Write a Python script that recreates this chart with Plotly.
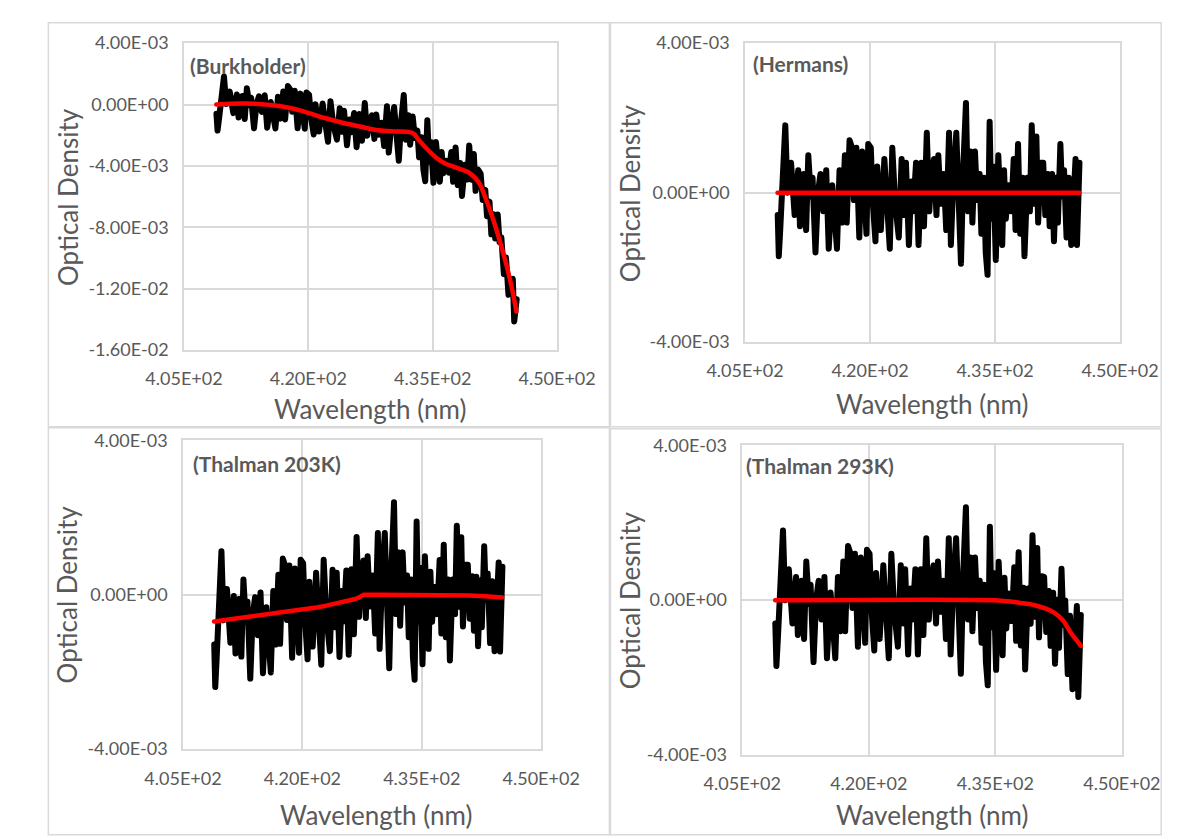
import numpy as np
import plotly.graph_objects as go

W, H = 1203, 840

# ---- measured spectra (optical density in units of 1e-3) ----
wavelength_nm = [
    408.92, 409.05, 409.22, 409.83, 410.09, 410.52, 410.95, 411.38, 411.59, 412.03,
    412.33, 412.59, 412.89, 413.10, 413.45, 413.75, 414.05, 414.40, 414.74, 415.04,
    415.47, 415.69, 416.03, 416.34, 416.64, 416.98, 417.20, 417.54, 417.84, 418.06,
    418.36, 418.71, 419.05, 419.35, 419.57, 419.78, 420.09, 420.34, 420.65, 420.86,
    421.29, 421.72, 422.03, 422.37, 422.67, 423.02, 423.45, 423.79, 424.10, 424.31,
    424.66, 424.96, 425.17, 425.52, 425.82, 426.16, 426.47, 426.81, 427.11, 427.33,
    427.67, 427.97, 428.19, 428.49, 428.84, 429.14, 429.48, 429.70, 430.04, 430.35,
    430.65, 430.91, 431.21, 431.51, 431.77, 432.07, 432.28, 432.59, 432.85, 433.15,
    433.36, 433.66, 433.88, 434.10, 434.35, 434.57, 434.78, 435.09, 435.39, 435.60,
    435.86, 436.08, 436.29, 436.59, 436.94, 437.24, 437.46, 437.76, 438.02, 438.32,
    438.53, 438.88, 439.18, 439.40, 439.70, 439.96, 440.17, 440.47, 440.78, 441.03,
    441.34, 441.55, 441.85, 442.07, 442.33, 442.54, 442.84, 443.06, 443.28, 443.58,
    443.84, 444.14, 444.40, 444.66, 444.83, 445.13,
]

burkholder_od = [
    -0.60, -1.70, -0.99, 1.83, 0.03, 0.84, -0.56, 0.65, -0.85, 0.56,
    -0.94, 1.06, -0.05, 0.45, -1.55, 0.04, 0.54, -0.48, 0.60, -1.51,
    0.17, -0.54, -1.56, 0.51, -0.92, 0.85, -0.97, 1.20, 0.96, -0.47,
    0.90, -1.55, 0.71, -0.64, -1.58, 0.79, 0.64, -0.90, -1.95, 0.02,
    -1.76, 0.07, -1.38, -2.43, 0.22, -1.33, -2.29, -0.24, -1.78, -0.40,
    -2.65, -0.98, -1.81, -0.55, -2.78, -0.62, -2.36, 0.10, -2.03, -1.16,
    -0.70, -2.24, -0.65, -1.97, -1.19, -2.70, -0.12, -3.13, -1.15, -0.16,
    -2.06, -3.67, -0.98, 0.62, -2.29, -0.70, -2.62, -0.78, -2.19, -1.70,
    -3.44, -2.13, -4.27, -5.00, -1.02, -3.73, -2.44, -5.10, -2.45, -3.84,
    -5.03, -3.10, -4.48, -3.67, -4.44, -3.10, -5.04, -2.80, -5.25, -3.81,
    -5.96, -3.93, -4.89, -2.67, -4.90, -3.22, -5.63, -4.24, -4.50, -6.23,
    -5.56, -7.28, -6.33, -8.46, -7.15, -8.73, -7.17, -8.97, -8.66, -11.06,
    -9.98, -12.40, -11.42, -11.37, -14.14, -12.70,
]

hermans_od = [
    -0.6, -1.7, -1.0, 1.8, 0.0, 0.8, -0.6, 0.6, -0.9, 0.5,
    -1.0, 1.0, -0.1, 0.4, -1.6, 0.0, 0.5, -0.5, 0.6, -1.5,
    0.2, -0.5, -1.5, 0.6, -0.8, 1.0, -0.8, 1.4, 1.2, -0.2,
    1.2, -1.2, 1.1, -0.2, -1.1, 1.3, 1.2, -0.3, -1.3, 0.7,
    -1.0, 0.9, -0.5, -1.5, 1.2, -0.3, -1.2, 0.9, -0.6, 0.8,
    -1.4, 0.3, -0.5, 0.8, -1.4, 0.8, -0.9, 1.6, -0.5, 0.4,
    0.9, -0.6, 1.0, -0.3, 0.5, -1.0, 1.6, -1.4, 0.6, 1.6,
    -0.3, -1.9, 0.8, 2.4, -0.5, 1.1, -0.8, 1.1, -0.2, 0.5,
    -1.1, 0.4, -1.6, -2.2, 1.9, -0.7, 0.7, -1.8, 1.0, -0.3,
    -1.4, 0.6, -0.7, 0.2, -0.5, 0.9, -1.0, 1.3, -1.1, 0.4,
    -1.7, 0.4, -0.5, 1.8, -0.3, 1.5, -0.8, 0.8, 0.8, -0.6,
    0.5, -0.9, 0.5, -1.3, 0.4, -0.8, 1.3, -0.1, 0.6, -1.2,
    0.4, -1.4, 0.2, 0.9, -1.4, 0.8,
]

thalman203_od = [
    -1.29, -2.39, -1.68, 1.13, -0.66, 0.15, -1.24, -0.03, -1.52, -0.11,
    -1.60, 0.40, -0.69, -0.18, -2.17, -0.56, -0.06, -1.05, 0.06, -2.03,
    -0.32, -1.02, -2.01, 0.10, -1.29, 0.52, -1.27, 0.94, 0.75, -0.65,
    0.76, -1.63, 0.68, -0.61, -1.50, 0.91, 0.82, -0.68, -1.67, 0.34,
    -1.34, 0.57, -0.82, -1.81, 0.91, -0.58, -1.46, 0.65, -0.84, 0.57,
    -1.61, 0.10, -0.69, 0.63, -1.55, 0.66, -1.02, 1.50, -0.57, 0.35,
    0.89, -0.60, 1.00, -0.30, 0.50, -1.00, 1.60, -1.40, 0.60, 1.60,
    -0.30, -1.90, 0.80, 2.40, -0.50, 1.10, -0.80, 1.10, -0.20, 0.50,
    -1.10, 0.40, -1.60, -2.20, 1.90, -0.70, 0.70, -1.80, 1.00, -0.30,
    -1.40, 0.60, -0.70, 0.20, -0.50, 0.90, -1.00, 1.30, -1.10, 0.40,
    -1.70, 0.40, -0.50, 1.79, -0.31, 1.49, -0.82, 0.78, 0.78, -0.62,
    0.48, -0.93, 0.47, -1.33, 0.37, -0.84, 1.26, -0.14, 0.55, -1.25,
    0.35, -1.46, 0.14, 0.84, -1.47, 0.73,
]

thalman293_od = [
    -0.6, -1.7, -1.0, 1.8, 0.0, 0.8, -0.6, 0.6, -0.9, 0.5,
    -1.0, 1.0, -0.1, 0.4, -1.6, 0.0, 0.5, -0.5, 0.6, -1.5,
    0.2, -0.5, -1.5, 0.6, -0.8, 1.0, -0.8, 1.4, 1.2, -0.2,
    1.2, -1.2, 1.1, -0.2, -1.1, 1.3, 1.2, -0.3, -1.3, 0.7,
    -1.0, 0.9, -0.5, -1.5, 1.2, -0.3, -1.2, 0.9, -0.6, 0.8,
    -1.4, 0.3, -0.5, 0.8, -1.4, 0.8, -0.9, 1.6, -0.5, 0.4,
    0.9, -0.6, 1.0, -0.3, 0.5, -1.0, 1.6, -1.4, 0.6, 1.6,
    -0.3, -1.9, 0.8, 2.4, -0.5, 1.1, -0.8, 1.1, -0.2, 0.5,
    -1.1, 0.4, -1.6, -2.2, 1.9, -0.7, 0.7, -1.80, 0.99, -0.31,
    -1.42, 0.58, -0.73, 0.17, -0.54, 0.85, -1.05, 1.24, -1.17, 0.32,
    -1.79, 0.30, -0.61, 1.68, -0.43, 1.35, -0.96, 0.62, 0.60, -0.82,
    0.24, -1.18, 0.19, -1.64, 0.01, -1.23, 0.81, -0.64, -0.01, -1.91,
    -0.40, -2.30, -0.76, -0.15, -2.50, -0.38,
]

# ---- reference cross-section fits (units of 1e-3) ----
burkholder_fit_wl = [408.9, 410, 412, 414, 416, 417.5, 419, 420.2, 422, 424, 425.8, 428, 430,
                     432.2, 432.7, 433.3, 434.4, 435.5, 436.5, 437.5, 438.5, 439.3, 440.1,
                     440.7, 441.2, 442.3, 443.3, 444.1, 444.6, 445.1]
burkholder_fit_od = [0.0, 0.03, 0.06, 0.04, -0.06, -0.2, -0.38, -0.58, -0.88, -1.17, -1.38,
                     -1.64, -1.75, -1.80, -1.9, -2.3, -2.95, -3.5, -3.85, -4.05, -4.25, -4.42,
                     -4.78, -5.2, -5.85, -7.5, -9.3, -10.9, -12.1, -13.5]

hermans_fit_wl = [408.9, 445.1]
hermans_fit_od = [0.0, 0.0]

thalman203_fit_wl = [408.9, 410, 411, 412, 413, 414, 415, 416, 417, 418, 419, 420, 421, 422,
                     423, 424, 425, 426, 426.5, 427, 427.4, 427.7, 430, 435, 439.4, 441, 443,
                     445.1]
thalman203_fit_od = [-0.69, -0.66, -0.64, -0.61, -0.59, -0.56, -0.535, -0.51, -0.48, -0.45,
                     -0.42, -0.39, -0.35, -0.32, -0.28, -0.24, -0.20, -0.14, -0.115, -0.08,
                     -0.047, 0.0, 0.0, 0.0, -0.01, -0.02, -0.04, -0.07]

thalman293_fit_wl = [408.9, 435, 436, 437, 438, 439, 440, 441, 442, 443, 443.6, 444, 444.5,
                     445.13]
thalman293_fit_od = [0.0, 0.0, -0.02, -0.04, -0.07, -0.10, -0.15, -0.22, -0.33, -0.52, -0.72,
                     -0.86, -1.0, -1.18]

# ---- axis tick labels ----
x_tickvals = [405, 420, 435, 450]
x_ticktext = ["4.05E+02", "4.20E+02", "4.35E+02", "4.50E+02"]
y_tickvals_wide = [4e-3, 0, -4e-3, -8e-3, -12e-3, -16e-3]
y_ticktext_wide = ["4.00E-03", "0.00E+00", "-4.00E-03", "-8.00E-03", "-1.20E-02", "-1.60E-02"]
y_tickvals_narrow = [4e-3, 0, -4e-3]
y_ticktext_narrow = ["4.00E-03", "0.00E+00", "-4.00E-03"]

FONT = "Lato"
TXT = "#595959"
GRID = "#d9d9d9"


def od(vals):
    return np.asarray(vals) * 1e-3


def px_x(x):
    return x / W


def px_y(y):
    return 1 - y / H


# panel layout: plot-area boxes in pixels (left, right, top, bottom)
panels = [
    dict(box=(155, 554, 32, 347), yr=[-16e-3, 4e-3], yt=(y_tickvals_wide, y_ticktext_wide),
         data=burkholder_od, fit=(burkholder_fit_wl, burkholder_fit_od), shape="spline",
         label="(Burkholder)", label_xy=(159, 55), ytitle="Optical Density",
         ytitle_xy=(31, 190), xtitle_xy=(354, 408)),
    dict(box=(755, 1156, 32, 339), yr=[-4e-3, 4e-3], yt=(y_tickvals_narrow, y_ticktext_narrow),
         data=hermans_od, fit=(hermans_fit_wl, hermans_fit_od), shape="linear",
         label="(Hermans)", label_xy=(761, 53), ytitle="Optical Density",
         ytitle_xy=(632, 186), xtitle_xy=(955, 403)),
    dict(box=(154, 537, 440, 757), yr=[-4e-3, 4e-3], yt=(y_tickvals_narrow, y_ticktext_narrow),
         data=thalman203_od, fit=(thalman203_fit_wl, thalman203_fit_od), shape="linear",
         label="(Thalman 203K)", label_xy=(163, 464), ytitle="Optical Density",
         ytitle_xy=(30, 598), xtitle_xy=(360, 825)),
    dict(box=(752, 1158, 445, 763), yr=[-4e-3, 4e-3], yt=(y_tickvals_narrow, y_ticktext_narrow),
         data=thalman293_od, fit=(thalman293_fit_wl, thalman293_fit_od), shape="spline",
         label="(Thalman 293K)", label_xy=(754, 466), ytitle="Optical Desnity",
         ytitle_xy=(632, 604), xtitle_xy=(955, 825)),
]

fig = go.Figure()
layout = dict(
    width=W, height=H, margin=dict(l=0, r=0, t=0, b=0),
    paper_bgcolor="white", plot_bgcolor="white", showlegend=False,
    font=dict(family=FONT, color=TXT),
)
annotations = []
shapes = []

for k, p in enumerate(panels, start=1):
    xa = "x" if k == 1 else f"x{k}"
    ya = "y" if k == 1 else f"y{k}"
    l, r, t, b = p["box"]

    fig.add_trace(go.Scatter(x=wavelength_nm, y=od(p["data"]), mode="lines",
                             line=dict(color="black", width=6), xaxis=xa, yaxis=ya,
                             hoverinfo="skip"))
    fig.add_trace(go.Scatter(x=p["fit"][0], y=od(p["fit"][1]), mode="lines",
                             line=dict(color="#ff0000", width=4.5, shape=p["shape"]),
                             xaxis=xa, yaxis=ya, hoverinfo="skip"))

    axis_common = dict(showgrid=True, gridcolor=GRID, gridwidth=1.5, showline=True,
                       linecolor=GRID, linewidth=1.5, mirror=True, zeroline=False,
                       ticks="", tickfont=dict(family=FONT, size=18, color=TXT),
                       fixedrange=True)
    layout["xaxis" if k == 1 else f"xaxis{k}"] = dict(
        axis_common, domain=[px_x(l), px_x(r)], range=[405, 450],
        tickvals=x_tickvals, ticktext=x_ticktext, anchor=ya, ticklabelstandoff=12)
    layout["yaxis" if k == 1 else f"yaxis{k}"] = dict(
        axis_common, domain=[px_y(b), px_y(t)], range=p["yr"],
        tickvals=p["yt"][0], ticktext=p["yt"][1], anchor=xa, ticklabelstandoff=10)

    annotations.append(dict(text=f"<b>{p['label']}</b>", x=px_x(p["label_xy"][0]),
                            y=px_y(p["label_xy"][1]), xref="paper", yref="paper",
                            xanchor="left", yanchor="middle", showarrow=False,
                            font=dict(family=FONT, size=21, color=TXT)))
    annotations.append(dict(text=p["ytitle"], x=px_x(p["ytitle_xy"][0]),
                            y=px_y(p["ytitle_xy"][1]), xref="paper", yref="paper",
                            xanchor="center", yanchor="middle", textangle=-90,
                            showarrow=False, font=dict(family=FONT, size=26, color=TXT)))
    annotations.append(dict(text="Wavelength (nm)", x=px_x(p["xtitle_xy"][0]),
                            y=px_y(p["xtitle_xy"][1]), xref="paper", yref="paper",
                            xanchor="center", yanchor="middle", showarrow=False,
                            font=dict(family=FONT, size=26, color=TXT)))

# chart-area frames
for x0, y0, x1, y1 in [(10, 11, 610, 426), (611, 11, 1200, 426),
                       (10, 427, 610, 845), (611, 428, 1200, 845)]:
    shapes.append(dict(type="rect", xref="paper", yref="paper",
                       x0=px_x(x0), x1=px_x(x1), y0=px_y(y1), y1=px_y(y0),
                       line=dict(color=GRID, width=1.5), layer="below"))

layout["annotations"] = annotations
layout["shapes"] = shapes
fig.update_layout(**layout)

# rounded joins and caps on the spectrum lines
round_joins = (
    "var s=document.createElement('style');"
    "s.textContent='.scatterlayer .js-line{stroke-linejoin:round !important;"
    "stroke-linecap:round !important;}';"
    "document.head.appendChild(s);"
)
fig.write_html("out.html", post_script=round_joins)
